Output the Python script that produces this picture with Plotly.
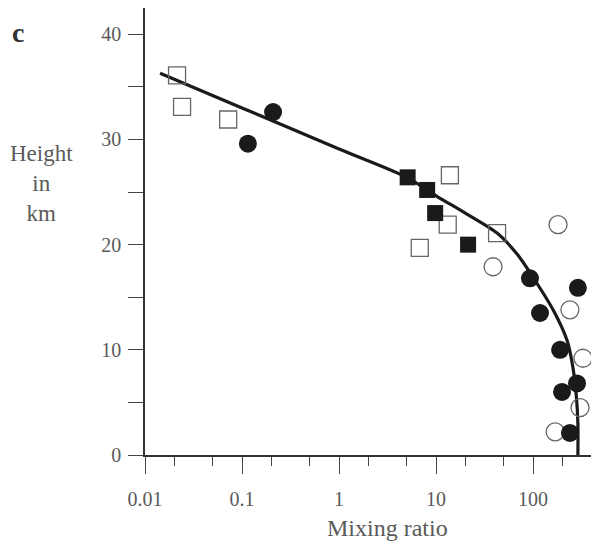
import plotly.graph_objects as go

# Data
curve_x = [0.0143, 0.1, 1.0, 5.0, 10.2, 20, 42.6, 70, 100, 161, 224, 257, 280, 290, 290]
curve_y = [36.3, 33.0, 29.1, 26.4, 24.6, 23.0, 21.1, 19.0, 16.9, 13.8, 10.9, 8.4, 5.5, 3.0, 0.0]

open_sq_x = [0.0214, 0.0241, 0.072, 13.9, 13.2, 6.8, 42.6]
open_sq_y = [36.1, 33.1, 31.9, 26.6, 21.9, 19.7, 21.1]

fill_circ_x = [0.209, 0.115, 93, 118, 290, 190, 199, 284, 240]
fill_circ_y = [32.6, 29.6, 16.8, 13.5, 15.9, 10.0, 6.0, 6.8, 2.1]

fill_sq_x = [5.1, 8.1, 9.8, 21.4]
fill_sq_y = [26.4, 25.2, 23.0, 20.0]

open_circ_x = [181, 38.7, 240, 327, 305, 169]
open_circ_y = [21.9, 17.9, 13.8, 9.2, 4.5, 2.2]

x_tickvals = [0.01, 0.1, 1, 10, 100]
x_ticktext = ["0.01", "0.1", "1", "10", "100"]
x_minor = [0.02, 0.05, 0.2, 0.5, 2, 5, 20, 50, 200]
y_tickvals = [0, 10, 20, 30, 40]
y_minor = [5, 15, 25, 35]

FONT = "Liberation Serif"
INK = "#1a1a1a"
GREY = "#5a5a5a"

fig = go.Figure()
fig.add_trace(go.Scatter(x=curve_x, y=curve_y, mode="lines",
                         line=dict(color=INK, width=3.2, shape="spline", smoothing=0.8),
                         hoverinfo="skip", cliponaxis=False))
fig.add_trace(go.Scatter(x=open_circ_x, y=open_circ_y, mode="markers", cliponaxis=False,
                         marker=dict(symbol="circle-open", size=18, color="#666666",
                                     line=dict(width=1.3, color="#666666"))))
fig.add_trace(go.Scatter(x=open_sq_x, y=open_sq_y, mode="markers", cliponaxis=False,
                         marker=dict(symbol="square-open", size=17, color="#666666",
                                     line=dict(width=1.3, color="#666666"))))
fig.add_trace(go.Scatter(x=fill_sq_x, y=fill_sq_y, mode="markers", cliponaxis=False,
                         marker=dict(symbol="square", size=16, color=INK)))
fig.add_trace(go.Scatter(x=fill_circ_x, y=fill_circ_y, mode="markers", cliponaxis=False,
                         marker=dict(symbol="circle", size=18, color=INK)))

fig.update_layout(
    width=591, height=543,
    margin=dict(l=137, r=0, t=0, b=96),
    paper_bgcolor="white", plot_bgcolor="white",
    showlegend=False,
    font=dict(family=FONT, size=20, color=GREY),
    xaxis=dict(type="log", range=[-2, 2.68], showgrid=False, zeroline=False,
               showline=True, linecolor="#333333", linewidth=1.6,
               tickmode="array", tickvals=x_tickvals, ticktext=x_ticktext,
               ticks="outside", ticklen=17, tickwidth=1.3, tickcolor="#444444",
               ticklabelstandoff=8,
               tickfont=dict(family=FONT, size=20, color=GREY),
               minor=dict(tickvals=x_minor, ticks="outside", ticklen=9,
                          tickwidth=1.2, tickcolor="#444444", showgrid=False)),
    yaxis=dict(range=[0, 42.5], showgrid=False, zeroline=False,
               showline=True, linecolor="#333333", linewidth=1.6,
               tickmode="array", tickvals=y_tickvals,
               ticks="outside", ticklen=15, tickwidth=1.3, tickcolor="#444444",
               ticklabelstandoff=3,
               tickfont=dict(family=FONT, size=20, color=GREY),
               minor=dict(tickvals=y_minor, ticks="outside", ticklen=15,
                          tickwidth=1.2, tickcolor="#444444", showgrid=False)),
    annotations=[
        dict(text="<b>c</b>", xref="paper", yref="paper", x=-0.2797, y=0.946,
             xanchor="center", yanchor="middle",
             showarrow=False, font=dict(family=FONT, size=28, color="#333333")),
        dict(text="Height<br>in<br>km", xref="paper", yref="paper", x=-0.229, y=0.6085,
             xanchor="center", yanchor="middle",
             showarrow=False, font=dict(family=FONT, size=23, color=GREY)),
        dict(text="Mixing ratio", xref="paper", yref="paper", x=0.535, y=-0.163,
             xanchor="center", yanchor="middle",
             showarrow=False, font=dict(family=FONT, size=24, color=GREY)),
    ],
)

fig.write_html("out.html")
